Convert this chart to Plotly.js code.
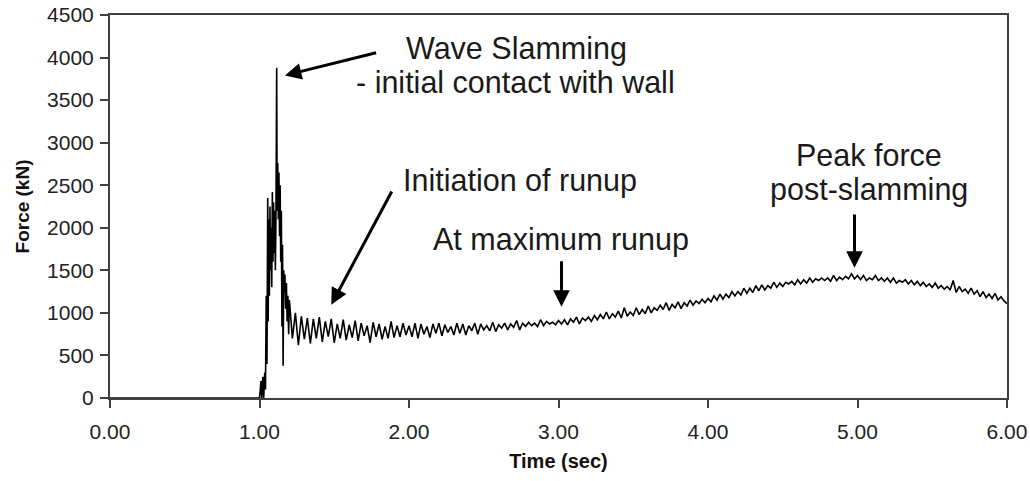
<!DOCTYPE html>
<html>
<head>
<meta charset="utf-8">
<script src="https://cdn.plot.ly/plotly-3.0.1.min.js"></script>
<style>html,body{margin:0;padding:0;background:#fff;}#chart{width:1030px;height:481px;}</style>
</head>
<body>
<div id="chart"></div>
<script>
// Impact segment (time in s, force in kN)
const impactTime = [0.00, 0.99, 1.000, 1.010, 1.015, 1.022, 1.028, 1.035, 1.040, 1.045, 1.050, 1.055, 1.058, 1.062, 1.066, 1.070, 1.074, 1.078, 1.082, 1.086, 1.090, 1.094, 1.098, 1.102, 1.106, 1.110, 1.115, 1.118, 1.122, 1.126, 1.130, 1.134, 1.138, 1.142, 1.146, 1.150, 1.154, 1.158, 1.162, 1.166, 1.170, 1.175, 1.180, 1.185, 1.190, 1.195];
const impactForce = [0, 0, 0, 200, 0, 250, 0, 300, 100, 1200, 400, 2350, 900, 2100, 1200, 2250, 1500, 2000, 1300, 2420, 1600, 2300, 1700, 2200, 1500, 2100, 3880, 2200, 2760, 2100, 2650, 1900, 2500, 1600, 2200, 840, 1800, 380, 1500, 1250, 1450, 1050, 1350, 900, 1200, 750];

// Post-impact record, sampled every 0.02 s from 1.20 s to 6.00 s
const recordStart = 1.20;
const recordStep = 0.02;
const recordForce = [
  1150, 700, 1000, 620, 960, 690, 940, 640, 930, 700,
  950, 660, 900, 720, 930, 650, 870, 700, 920, 680,
  860, 710, 910, 670, 880, 730, 850, 650, 890, 720,
  870, 690, 840, 700, 900, 710, 850, 720, 880, 740,
  850, 720, 880, 700, 870, 750, 840, 710, 870, 760,
  880, 730, 860, 770, 840, 740, 880, 760, 870, 740,
  850, 790, 880, 750, 870, 800, 850, 790, 890, 780,
  860, 820, 880, 800, 870, 830, 910, 800, 880, 840,
  890, 850, 880, 840, 920, 850, 900, 870, 890, 860,
  910, 870, 920, 860, 930, 890, 950, 870, 940, 910,
  950, 900, 970, 920, 980, 930, 1010, 930, 990, 950,
  1020, 940, 1060, 960, 1010, 970, 1060, 980, 1040, 990,
  1080, 1000, 1060, 1030, 1090, 1040, 1120, 1030, 1100, 1060,
  1130, 1050, 1120, 1080, 1150, 1090, 1140, 1110, 1160, 1120,
  1170, 1130, 1200, 1150, 1220, 1160, 1220, 1180, 1250, 1200,
  1250, 1210, 1290, 1230, 1290, 1240, 1320, 1260, 1330, 1270,
  1320, 1290, 1360, 1300, 1350, 1310, 1360, 1340, 1370, 1330,
  1390, 1340, 1390, 1350, 1410, 1360, 1400, 1380, 1410, 1380,
  1410, 1370, 1440, 1380, 1420, 1390, 1430, 1400, 1460, 1400,
  1440, 1390, 1440, 1380, 1410, 1390, 1440, 1380, 1410, 1370,
  1410, 1360, 1410, 1350, 1380, 1360, 1390, 1340, 1380, 1330,
  1370, 1320, 1360, 1310, 1340, 1300, 1350, 1290, 1320, 1280,
  1310, 1270, 1380, 1240, 1310, 1250, 1280, 1230, 1290, 1220,
  1260, 1190, 1250, 1180, 1220, 1170, 1230, 1150, 1190, 1140,
  1110
];

const xTickVals = [0, 1, 2, 3, 4, 5, 6];
const xTickText = ["0.00", "1.00", "2.00", "3.00", "4.00", "5.00", "6.00"];
const yTickVals = [0, 500, 1000, 1500, 2000, 2500, 3000, 3500, 4000, 4500];

const recordTime = recordForce.map((_, i) => +(recordStart + i * recordStep).toFixed(4));
const time = impactTime.concat(recordTime);
const force = impactForce.concat(recordForce);

const FONT = "Liberation Sans, Arial, sans-serif";
const annFont = {family: FONT, size: 30.5, color: "#1a1a1a"};

function arrow(hx, hy, tx, ty) {
  return {x: hx, y: hy, ax: tx, ay: ty, xref: "x", yref: "y", axref: "x", ayref: "y",
    text: "", showarrow: true, arrowhead: 2, arrowsize: 1.1, arrowwidth: 3, arrowcolor: "#000", standoff: 0};
}
function label(x, y, text) {
  return {x: x, y: y, xref: "x", yref: "y", text: text, showarrow: false, font: annFont,
    xanchor: "center", yanchor: "middle"};
}

const layout = {
  width: 1030, height: 481,
  margin: {l: 110, r: 23, t: 15, b: 83},
  paper_bgcolor: "#fff", plot_bgcolor: "#fff",
  showlegend: false,
  font: {family: FONT, color: "#222"},
  xaxis: {
    range: [0, 6], tickvals: xTickVals, ticktext: xTickText,
    showgrid: false, zeroline: false, showline: true, mirror: true,
    linecolor: "#404040", linewidth: 2, ticks: "outside", ticklen: 8, tickwidth: 2, tickcolor: "#404040",
    ticklabelstandoff: 6,
    tickfont: {family: FONT, size: 21, color: "#222"},
    title: {text: "<b>Time (sec)</b>", font: {family: FONT, size: 20, color: "#111"}, standoff: 12}
  },
  yaxis: {
    range: [0, 4500], tickvals: yTickVals,
    showgrid: false, zeroline: false, showline: true, mirror: true,
    linecolor: "#404040", linewidth: 2, ticks: "outside", ticklen: 8, tickwidth: 2, tickcolor: "#404040",
    ticklabelstandoff: 2,
    tickfont: {family: FONT, size: 21, color: "#222"},
    title: {text: "<b>Force (kN)</b>", font: {family: FONT, size: 19, color: "#111"}, standoff: 12}
  },
  annotations: [
    arrow(1.17, 3790, 1.79, 4060),
    label(2.72, 4108, "Wave Slamming"),
    label(2.71, 3710, "- initial contact with wall"),
    arrow(1.48, 1096, 1.89, 2444),
    label(2.74, 2560, "Initiation of runup"),
    arrow(3.02, 1072, 3.02, 1623),
    label(3.02, 1858, "At maximum runup"),
    arrow(4.98, 1529, 4.98, 2174),
    label(5.08, 2854, "Peak force"),
    label(5.08, 2444, "post-slamming")
  ]
};

Plotly.newPlot("chart", [{
  x: time, y: force, type: "scatter", mode: "lines",
  line: {color: "#000", width: 1.6}, hoverinfo: "skip"
}], layout, {staticPlot: true, displayModeBar: false});
</script>
</body>
</html>
